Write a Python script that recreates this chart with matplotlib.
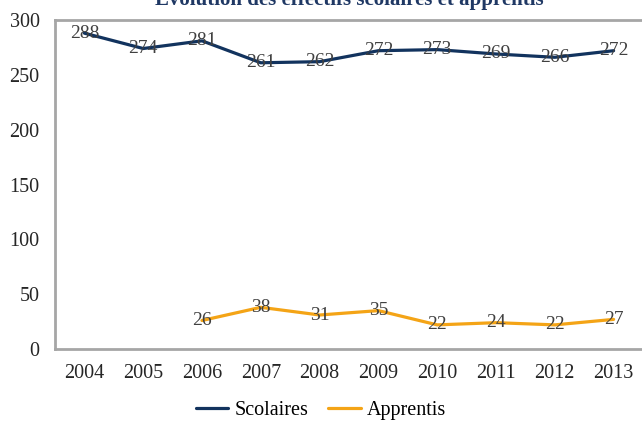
import numpy as np
import matplotlib.pyplot as plt

years = ['2004', '2005', '2006', '2007', '2008', '2009', '2010', '2011', '2012', '2013']
scolaires = [288, 274, 281, 261, 262, 272, 273, 269, 266, 272]
apprentis = [np.nan, np.nan, 26, 38, 31, 35, 22, 24, 22, 27]

plt.rcParams['font.family'] = ['Liberation Serif', 'DejaVu Serif']

fig = plt.figure(figsize=(6.42, 4.22), dpi=100)
ax = fig.add_axes([55/642, 1 - 349/422, 588/642, 329/422])

x = np.arange(len(years))
navy = '#12335E'
gold = '#F4A416'
ax.plot(x, scolaires, color=navy, lw=2.3, label='Scolaires', solid_capstyle='round')
ax.plot(x, apprentis, color=gold, lw=2.3, label='Apprentis', solid_capstyle='round')

for xi, v in zip(x, scolaires):
    ax.text(xi, v, str(v), ha='center', va='center', fontsize=14, color='#404040')
for xi, v in zip(x, apprentis):
    if not np.isnan(v):
        ax.text(xi, v, str(int(v)), ha='center', va='center', fontsize=14, color='#404040')

ax.set_xlim(-0.5, 9.5)
ax.set_ylim(0, 300)
ax.set_xticks(x)
ax.set_xticklabels(years)
ax.set_yticks(range(0, 301, 50))
ax.tick_params(axis='both', length=0, labelsize=14.5, colors='#262626')
ax.tick_params(axis='x', pad=11)
ax.tick_params(axis='y', pad=11)

for side in ['left', 'top', 'bottom']:
    ax.spines[side].set_color('#a6a6a6')
    ax.spines[side].set_linewidth(2)
ax.spines['right'].set_visible(False)

# title is partly cut off at the top, like the source
fig.text(349/642, 1 - 5/422, 'Evolution des effectifs scolaires et apprentis',
         ha='center', va='baseline', fontsize=15, fontweight='bold', color='#1f3864')

fig.legend(loc='center', bbox_to_anchor=(0.5, 1 - 410/422), ncol=2, frameon=False,
           fontsize=14.5, handlelength=1.6, columnspacing=1.0, handletextpad=0.3)

fig.savefig('out.png', dpi=100)
